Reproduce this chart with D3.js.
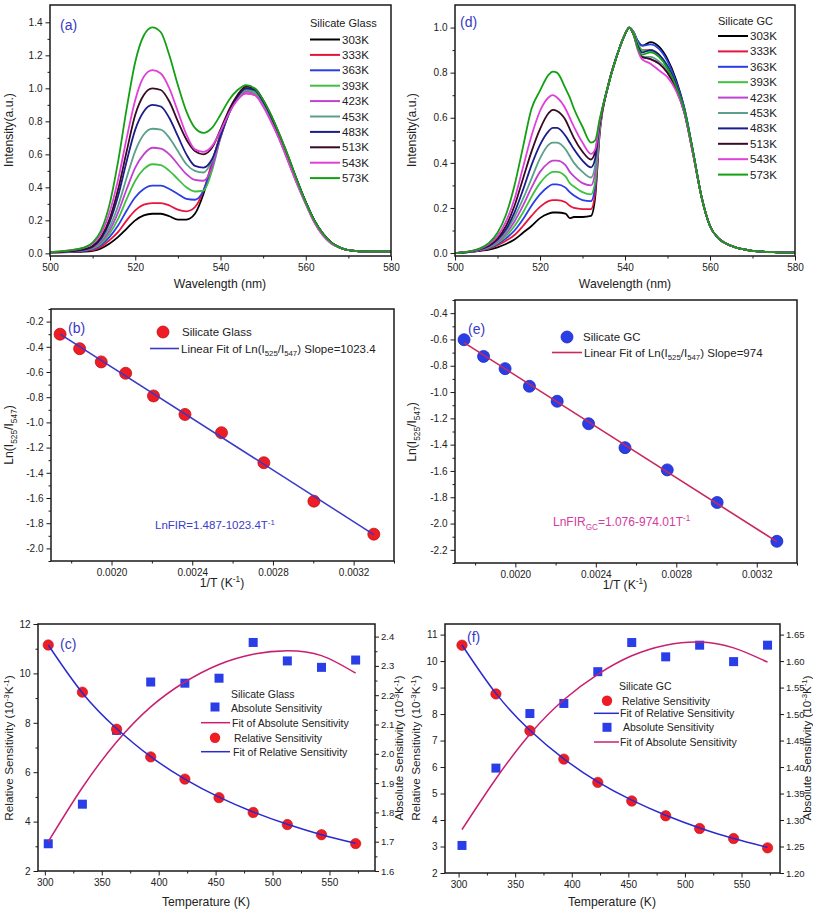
<!DOCTYPE html>
<html><head><meta charset="utf-8">
<script src="https://cdn.jsdelivr.net/npm/d3@7"></script>
<style>body{margin:0;background:#fff} svg{display:block}</style>
</head><body><svg id="c" width="813" height="914"></svg>
<script>
const FONT = '"Liberation Sans", Arial, Helvetica, sans-serif';

// ---------- shared ----------
const temps = ["303K","333K","363K","393K","423K","453K","483K","513K","543K","573K"];
const tempK = [303,333,363,393,423,453,483,513,543,573];
const colors = ["#000000","#e8143c","#2a3ee8","#40c040","#c040d0","#5aa08a","#1c1c8c","#3a0a24","#e040d8","#14a014"];

// ---------- panel (a): Silicate Glass spectra ----------
const wlA = [500,505,508,510,512,514,516,518,520,522,524,526,528,530,532,534,536,538,540,542,544,546,548,550,552,554,556,558,560,562,564,566,568,570,575,580];
const sA303 = [0.005,0.008,0.01,0.015,0.03,0.06,0.1,0.15,0.2,0.23,0.24,0.24,0.225,0.205,0.205,0.24,0.36,0.54,0.72,0.86,0.95,0.99,0.98,0.91,0.81,0.69,0.56,0.43,0.31,0.2,0.12,0.065,0.035,0.02,0.01,0.01];
const sA333 = [0.005,0.01,0.015,0.02,0.04,0.08,0.13,0.2,0.26,0.295,0.305,0.305,0.29,0.265,0.255,0.28,0.38,0.55,0.72,0.86,0.94,0.97,0.96,0.9,0.8,0.69,0.56,0.43,0.31,0.2,0.12,0.065,0.035,0.02,0.01,0.01];
const sA363 = [0.005,0.01,0.015,0.025,0.05,0.1,0.17,0.26,0.34,0.39,0.41,0.41,0.39,0.36,0.33,0.325,0.38,0.53,0.71,0.85,0.95,1.0,0.99,0.92,0.82,0.7,0.57,0.44,0.31,0.2,0.12,0.065,0.035,0.02,0.01,0.01];
const sA393 = [0.005,0.012,0.02,0.03,0.06,0.12,0.21,0.33,0.44,0.51,0.54,0.535,0.5,0.45,0.4,0.375,0.38,0.5,0.7,0.85,0.95,1.0,0.98,0.91,0.81,0.69,0.56,0.43,0.31,0.2,0.12,0.065,0.035,0.02,0.01,0.01];
const sA423 = [0.006,0.012,0.02,0.035,0.07,0.14,0.25,0.39,0.52,0.6,0.64,0.635,0.6,0.54,0.48,0.445,0.44,0.52,0.7,0.85,0.94,0.98,0.97,0.9,0.8,0.68,0.55,0.42,0.3,0.19,0.11,0.06,0.035,0.02,0.01,0.01];
const sA453 = [0.006,0.013,0.022,0.04,0.08,0.16,0.29,0.46,0.62,0.72,0.755,0.75,0.7,0.62,0.54,0.5,0.49,0.56,0.71,0.85,0.94,0.99,0.97,0.9,0.8,0.68,0.55,0.42,0.3,0.19,0.11,0.06,0.035,0.02,0.01,0.01];
const sA483 = [0.006,0.013,0.022,0.04,0.09,0.19,0.35,0.56,0.75,0.86,0.9,0.89,0.82,0.71,0.6,0.53,0.52,0.57,0.71,0.85,0.95,1.0,0.99,0.92,0.82,0.7,0.57,0.44,0.31,0.2,0.12,0.065,0.035,0.02,0.01,0.01];
const sA513 = [0.007,0.014,0.025,0.045,0.1,0.21,0.39,0.62,0.84,0.96,1.0,0.99,0.92,0.8,0.69,0.62,0.6,0.64,0.75,0.87,0.96,1.01,1.0,0.93,0.83,0.71,0.58,0.44,0.31,0.2,0.12,0.065,0.035,0.02,0.01,0.01];
const sA543 = [0.008,0.02,0.035,0.06,0.12,0.25,0.45,0.7,0.93,1.07,1.11,1.09,1.0,0.86,0.72,0.63,0.615,0.65,0.74,0.85,0.93,0.97,0.96,0.89,0.79,0.68,0.55,0.42,0.3,0.19,0.11,0.06,0.035,0.02,0.01,0.01];
const sA573 = [0.008,0.02,0.035,0.065,0.14,0.3,0.56,0.88,1.16,1.32,1.37,1.34,1.2,1.02,0.86,0.76,0.73,0.76,0.84,0.93,0.99,1.02,1.0,0.93,0.83,0.71,0.58,0.44,0.31,0.2,0.12,0.065,0.035,0.02,0.01,0.01];
const specA = [sA303,sA333,sA363,sA393,sA423,sA453,sA483,sA513,sA543,sA573];

// ---------- panel (d): Silicate GC spectra ----------
const wlD = [500,504,506,508,510,512,514,516,518,520,522,523,524,526,527,528,530,532,533,534,536,538,540,541,542,543,544,546,548,550,552,554,556,558,560,562,564,566,570,575,580];
const sD303 = [0,0.005,0.01,0.015,0.025,0.04,0.06,0.09,0.12,0.155,0.175,0.18,0.18,0.175,0.155,0.16,0.16,0.165,0.25,0.52,0.74,0.87,0.97,1.0,0.98,0.94,0.92,0.935,0.915,0.86,0.77,0.64,0.45,0.25,0.12,0.065,0.04,0.025,0.01,0.004,0.002];
const sD333 = [0,0.006,0.012,0.02,0.035,0.055,0.08,0.12,0.165,0.205,0.23,0.235,0.235,0.225,0.21,0.2,0.195,0.195,0.27,0.53,0.74,0.87,0.97,1.0,0.98,0.93,0.9,0.9,0.88,0.82,0.74,0.63,0.45,0.25,0.12,0.065,0.04,0.025,0.01,0.004,0.002];
const sD363 = [0,0.006,0.013,0.022,0.04,0.065,0.1,0.15,0.21,0.26,0.295,0.305,0.305,0.29,0.27,0.255,0.235,0.23,0.3,0.54,0.74,0.87,0.97,1.0,0.98,0.94,0.92,0.925,0.905,0.85,0.76,0.64,0.45,0.25,0.12,0.065,0.04,0.025,0.01,0.004,0.002];
const sD393 = [0,0.007,0.015,0.025,0.045,0.075,0.12,0.18,0.25,0.31,0.35,0.36,0.36,0.34,0.31,0.295,0.27,0.26,0.32,0.54,0.74,0.87,0.97,1.0,0.98,0.93,0.9,0.895,0.875,0.83,0.75,0.63,0.45,0.25,0.12,0.065,0.04,0.025,0.01,0.004,0.002];
const sD423 = [0,0.007,0.015,0.028,0.05,0.085,0.14,0.21,0.29,0.36,0.4,0.41,0.41,0.39,0.36,0.34,0.31,0.3,0.36,0.55,0.74,0.87,0.97,1.0,0.97,0.91,0.87,0.86,0.84,0.8,0.73,0.62,0.44,0.25,0.12,0.065,0.04,0.025,0.01,0.004,0.002];
const sD453 = [0,0.008,0.016,0.03,0.055,0.095,0.16,0.24,0.33,0.42,0.48,0.49,0.49,0.46,0.43,0.4,0.36,0.335,0.39,0.56,0.74,0.87,0.97,1.0,0.97,0.91,0.87,0.87,0.85,0.81,0.74,0.63,0.45,0.25,0.12,0.065,0.04,0.025,0.01,0.004,0.002];
const sD483 = [0,0.008,0.017,0.032,0.06,0.105,0.18,0.28,0.39,0.48,0.54,0.555,0.555,0.52,0.49,0.46,0.41,0.38,0.42,0.57,0.74,0.87,0.97,1.0,0.97,0.92,0.89,0.9,0.88,0.83,0.75,0.63,0.45,0.25,0.12,0.065,0.04,0.025,0.01,0.004,0.002];
const sD513 = [0,0.009,0.018,0.035,0.065,0.12,0.21,0.33,0.45,0.55,0.62,0.635,0.63,0.59,0.55,0.51,0.45,0.415,0.45,0.57,0.74,0.87,0.97,1.0,0.97,0.91,0.87,0.86,0.84,0.8,0.73,0.62,0.44,0.25,0.12,0.065,0.04,0.025,0.01,0.004,0.002];
const sD543 = [0,0.01,0.02,0.04,0.075,0.14,0.24,0.38,0.52,0.63,0.69,0.7,0.69,0.64,0.6,0.56,0.49,0.44,0.46,0.58,0.74,0.87,0.97,1.0,0.97,0.9,0.86,0.84,0.81,0.78,0.72,0.62,0.44,0.25,0.12,0.065,0.04,0.025,0.01,0.004,0.002];
const sD573 = [0,0.01,0.022,0.045,0.09,0.17,0.3,0.47,0.64,0.72,0.79,0.805,0.8,0.73,0.69,0.64,0.56,0.49,0.5,0.59,0.74,0.87,0.97,1.0,0.97,0.91,0.88,0.89,0.87,0.82,0.74,0.63,0.45,0.25,0.12,0.065,0.04,0.025,0.01,0.004,0.002];
const specD = [sD303,sD333,sD363,sD393,sD423,sD453,sD483,sD513,sD543,sD573];

// ---------- panels (b),(e): Ln FIR vs 1/T ----------
const invT = [0.001745,0.001842,0.001949,0.002070,0.002208,0.002364,0.002545,0.002755,0.003003,0.003300];
const lnGlass = [-0.30,-0.415,-0.52,-0.61,-0.79,-0.937,-1.082,-1.32,-1.625,-1.887];
const fitX = [0.001745,0.003300];
const fitGlass = [-0.299,-1.890];
const lnGC = [-0.602,-0.729,-0.822,-0.956,-1.07,-1.241,-1.423,-1.592,-1.84,-2.135];
const fitGC = [-0.624,-2.138];

// ---------- panels (c),(f): sensitivities ----------
const srGlass    = [11.15,9.24,7.74,6.62,5.72,4.97,4.37,3.88,3.47,3.11];
const srGlassFit = [11.15,9.21,7.77,6.63,5.72,4.99,4.39,3.89,3.47,3.12];
const saGlass    = [1.693,1.828,2.08,2.245,2.241,2.258,2.38,2.317,2.295,2.32];
const saGlassFit = [1.70,1.885,2.04,2.16,2.245,2.305,2.34,2.352,2.335,2.275];
const srGC    = [10.6,8.76,7.37,6.30,5.42,4.72,4.16,3.68,3.30,2.95];
const srGCFit = [10.61,8.78,7.39,6.31,5.44,4.75,4.18,3.70,3.30,2.97];
const saGC    = [1.252,1.398,1.501,1.52,1.58,1.635,1.608,1.63,1.599,1.63];
const saGCFit = [1.282,1.378,1.462,1.527,1.575,1.610,1.630,1.636,1.625,1.598];

// ---------- tick values ----------
const tickWl = [500,520,540,560,580], tickWlMinor = [510,530,550,570];
const tickIntA = [0,0.2,0.4,0.6,0.8,1.0,1.2,1.4], tickIntAMinor = [0.1,0.3,0.5,0.7,0.9,1.1,1.3];
const tickIntD = [0,0.2,0.4,0.6,0.8,1.0], tickIntDMinor = [0.1,0.3,0.5,0.7,0.9];
const tickInv = [0.0020,0.0024,0.0028,0.0032], tickInvMinor = [0.0018,0.0022,0.0026,0.0030,0.0034];
const tickLnB = [-2.0,-1.8,-1.6,-1.4,-1.2,-1.0,-0.8,-0.6,-0.4,-0.2], tickLnBMinor = [-2.1,-1.9,-1.7,-1.5,-1.3,-1.1,-0.9,-0.7,-0.5,-0.3,-0.1];
const tickLnE = [-2.2,-2.0,-1.8,-1.6,-1.4,-1.2,-1.0,-0.8,-0.6,-0.4], tickLnEMinor = [-2.3,-2.1,-1.9,-1.7,-1.5,-1.3,-1.1,-0.9,-0.7,-0.5,-0.3];
const tickT = [300,350,400,450,500,550], tickTMinor = [325,375,425,475,525,575];
const tickSrC = [2,4,6,8,10,12], tickSrCMinor = [3,5,7,9,11];
const tickSaC = [1.6,1.7,1.8,1.9,2.0,2.1,2.2,2.3,2.4], tickSaCMinor = [1.65,1.75,1.85,1.95,2.05,2.15,2.25,2.35];
const tickSrF = [2,3,4,5,6,7,8,9,10,11], tickSrFMinor = [];
const tickSaF = [1.20,1.25,1.30,1.35,1.40,1.45,1.50,1.55,1.60,1.65], tickSaFMinor = [];

// ---------- helpers ----------
const svg = d3.select('#c');
const INK = '#1a1a1a';
const TITLE = 12.2;
let clipId = 0;

function styleAxis(sel, fs){
  sel.select('.domain').remove();
  sel.selectAll('line').attr('stroke', INK).attr('stroke-width', 1);
  sel.selectAll('text').attr('font-size', fs || 10).attr('fill', '#222').attr('font-family', FONT);
}
function rich(t, parts, size){
  let shift = 0;
  parts.forEach(([s, kind]) => {
    const target = kind === 'sup' ? -0.38*size : kind === 'sub' ? 0.3*size : 0;
    const ts = t.append('tspan').text(s).attr('dy', target - shift);
    if (kind) ts.attr('font-size', size*0.68);
    shift = target;
  });
  return t;
}
function makePanel(o){
  const g = svg.append('g');
  const x = d3.scaleLinear(o.xd, o.xr);
  const y = d3.scaleLinear(o.yd, o.yr);
  const [xl, xr] = o.xr, [yb, yt] = o.yr;
  g.append('g').attr('transform', `translate(0,${yb})`)
    .call(d3.axisBottom(x).tickValues(o.xMinor).tickSize(2.5).tickFormat('')).call(styleAxis);
  g.append('g').attr('transform', `translate(0,${yb})`)
    .call(d3.axisBottom(x).tickValues(o.xMajor).tickSize(4.5).tickPadding(3).tickFormat(o.xFmt)).call(styleAxis);
  g.append('g').attr('transform', `translate(${xl},0)`)
    .call(d3.axisLeft(y).tickValues(o.yMinor).tickSize(2.5).tickFormat('')).call(styleAxis);
  g.append('g').attr('transform', `translate(${xl},0)`)
    .call(d3.axisLeft(y).tickValues(o.yMajor).tickSize(4.5).tickPadding(3).tickFormat(o.yFmt)).call(styleAxis);
  let y2 = null;
  if (o.y2d){
    y2 = d3.scaleLinear(o.y2d, o.yr);
    g.append('g').attr('transform', `translate(${xr},0)`)
      .call(d3.axisRight(y2).tickValues(o.y2Minor).tickSize(2.5).tickFormat('')).call(styleAxis);
    g.append('g').attr('transform', `translate(${xr},0)`)
      .call(d3.axisRight(y2).tickValues(o.y2Major).tickSize(4).tickPadding(2).tickFormat(o.y2Fmt))
      .call(s => styleAxis(s, 9.5));
  }
  const id = 'clip' + (clipId++);
  svg.append('clipPath').attr('id', id).append('rect')
    .attr('x', xl).attr('y', yt).attr('width', xr - xl).attr('height', yb - yt);
  const plot = g.append('g').attr('clip-path', `url(#${id})`);
  g.append('rect').attr('x', xl).attr('y', yt).attr('width', xr - xl).attr('height', yb - yt)
    .attr('fill', 'none').attr('stroke', INK).attr('stroke-width', 1.5);
  return {g, plot, x, y, y2};
}
function label(g, x, y, txt, color){
  g.append('text').attr('x', x).attr('y', y).text(txt)
    .attr('font-family', FONT).attr('font-size', 14).attr('fill', color || '#3838c8');
}
function xTitle(g, x, y, parts){
  rich(g.append('text').attr('x', x).attr('y', y).attr('text-anchor', 'middle')
    .attr('font-family', FONT).attr('font-size', TITLE).attr('fill', '#222'), parts, TITLE);
}
function yTitle(g, x, y, parts, size){
  const s = size || TITLE;
  rich(g.append('text').attr('transform', `translate(${x},${y}) rotate(-90)`).attr('text-anchor', 'middle')
    .attr('font-family', FONT).attr('font-size', s).attr('fill', '#222'), parts, s);
}
function legText(g, x, y, parts, size, color){
  return rich(g.append('text').attr('x', x).attr('y', y).attr('font-family', FONT)
    .attr('font-size', size).attr('fill', color || '#222'), parts, size);
}
const f1 = d => d.toFixed(1), f2 = d => d.toFixed(2), f4 = d => d.toFixed(4), f0 = d => String(d);

// ---------- (a) ----------
{
  const P = makePanel({xd:[500,580], xr:[50,391], yd:[-0.016,1.505], yr:[256,5],
    xMajor:tickWl, xMinor:tickWlMinor, xFmt:f0, yMajor:tickIntA, yMinor:tickIntAMinor, yFmt:f1});
  const line = d3.line().x((d,i) => P.x(wlA[i])).y(d => P.y(d)).curve(d3.curveMonotoneX);
  specA.forEach((arr,k) => P.plot.append('path').attr('d', line(arr)).attr('fill','none')
    .attr('stroke', colors[k]).attr('stroke-width', 1.8));
  label(P.g, 60, 30, '(a)');
  legText(P.g, 310, 27, [['Silicate Glass']], 11);
  temps.forEach((t,k) => {
    const yy = 39.5 + k*15.4;
    P.g.append('line').attr('x1',310).attr('x2',340).attr('y1',yy).attr('y2',yy).attr('stroke',colors[k]).attr('stroke-width',2);
    legText(P.g, 342, yy+4, [[t]], 11.5);
  });
  xTitle(P.g, 220, 288, [['Wavelength (nm)']]);
  yTitle(P.g, 13, 130, [['Intensity(a.u.)']]);
}
// ---------- (d) ----------
{
  const P = makePanel({xd:[500,580], xr:[455,795], yd:[-0.013,1.1], yr:[256,5],
    xMajor:tickWl, xMinor:tickWlMinor, xFmt:f0, yMajor:tickIntD, yMinor:tickIntDMinor, yFmt:f1});
  const line = d3.line().x((d,i) => P.x(wlD[i])).y(d => P.y(d)).curve(d3.curveMonotoneX);
  specD.forEach((arr,k) => P.plot.append('path').attr('d', line(arr)).attr('fill','none')
    .attr('stroke', colors[k]).attr('stroke-width', 1.8));
  label(P.g, 460, 27, '(d)');
  legText(P.g, 718, 25, [['Silicate GC']], 11);
  temps.forEach((t,k) => {
    const yy = 36 + k*15.4;
    P.g.append('line').attr('x1',718).attr('x2',748).attr('y1',yy).attr('y2',yy).attr('stroke',colors[k]).attr('stroke-width',2);
    legText(P.g, 750, yy+4, [[t]], 11.5);
  });
  xTitle(P.g, 625, 288, [['Wavelength (nm)']]);
  yTitle(P.g, 416, 130, [['Intensity(a.u.)']]);
}
// ---------- (b) ----------
{
  const P = makePanel({xd:[0.0017,0.0034], xr:[51,394], yd:[-2.1,-0.1], yr:[561,309],
    xMajor:tickInv, xMinor:tickInvMinor, xFmt:f4, yMajor:tickLnB, yMinor:tickLnBMinor, yFmt:f1});
  const line = d3.line().x((d,i) => P.x(fitX[i])).y(d => P.y(d));
  P.plot.selectAll('circle.pt').data(lnGlass).join('circle').attr('class','pt')
    .attr('cx', (d,i) => P.x(invT[i])).attr('cy', d => P.y(d)).attr('r', 6)
    .attr('fill', '#ee1c24').attr('stroke', '#c01018').attr('stroke-width', 0.8);
  P.plot.append('path').attr('d', line(fitGlass)).attr('fill','none').attr('stroke','#3a3ac8').attr('stroke-width',1.5);
  label(P.g, 68, 333, '(b)');
  P.g.append('circle').attr('cx',163).attr('cy',332).attr('r',6).attr('fill','#ee1c24').attr('stroke','#c01018').attr('stroke-width',0.8);
  legText(P.g, 182, 336, [['Silicate Glass']], 11.5);
  P.g.append('line').attr('x1',150).attr('x2',179).attr('y1',348.5).attr('y2',348.5).attr('stroke','#3a3ac8').attr('stroke-width',1.6);
  legText(P.g, 181, 352.5, [['Linear Fit of Ln(I'],['525','sub'],['/I'],['547','sub'],[') Slope=1023.4']], 11.5);
  legText(P.g, 155, 529, [['LnFIR=1.487-1023.4T'],['-1','sup']], 11.5, '#3c3cc8');
  xTitle(P.g, 222, 587, [['1/T (K'],['-1','sup'],[')']]);
  yTitle(P.g, 13, 435, [['Ln(I'],['525','sub'],['/I'],['547','sub'],[')']]);
}
// ---------- (e) ----------
{
  const P = makePanel({xd:[0.0017,0.0034], xr:[455,797], yd:[-2.3,-0.3], yr:[563,300],
    xMajor:tickInv, xMinor:tickInvMinor, xFmt:f4, yMajor:tickLnE, yMinor:tickLnEMinor, yFmt:f1});
  const line = d3.line().x((d,i) => P.x(fitX[i])).y(d => P.y(d));
  P.plot.selectAll('circle.pt').data(lnGC).join('circle').attr('class','pt')
    .attr('cx', (d,i) => P.x(invT[i])).attr('cy', d => P.y(d)).attr('r', 6)
    .attr('fill', '#2a3ee8').attr('stroke', '#1a2ac0').attr('stroke-width', 0.8);
  P.plot.append('path').attr('d', line(fitGC)).attr('fill','none').attr('stroke','#c8285a').attr('stroke-width',1.6);
  label(P.g, 468, 334, '(e)');
  P.g.append('circle').attr('cx',567).attr('cy',337).attr('r',6).attr('fill','#2a3ee8').attr('stroke','#1a2ac0').attr('stroke-width',0.8);
  legText(P.g, 583, 341, [['Silicate GC']], 11.5);
  P.g.append('line').attr('x1',552).attr('x2',582).attr('y1',352.5).attr('y2',352.5).attr('stroke','#c8285a').attr('stroke-width',1.6);
  legText(P.g, 584, 356.5, [['Linear Fit of Ln(I'],['525','sub'],['/I'],['547','sub'],[') Slope=974']], 11.5);
  legText(P.g, 553, 526, [['LnFIR'],['GC','sub'],['=1.076-974.01T'],['-1','sup']], 12, '#d23ca0');
  xTitle(P.g, 625, 589, [['1/T (K'],['-1','sup'],[')']]);
  yTitle(P.g, 416, 432, [['Ln(I'],['525','sub'],['/I'],['547','sub'],[')']]);
}
// ---------- (c),(f) ----------
function sensPanel(o){
  const P = makePanel({xd:o.xd, xr:o.xr, yd:o.yd, yr:o.yr, y2d:o.y2d,
    xMajor:tickT, xMinor:tickTMinor, xFmt:f0, yMajor:o.yMajor, yMinor:o.yMinor, yFmt:f0,
    y2Major:o.y2Major, y2Minor:o.y2Minor, y2Fmt:o.y2Fmt});
  const lineR = d3.line().x((d,i) => P.x(tempK[i])).y(d => P.y(d)).curve(d3.curveNatural);
  const lineA = d3.line().x((d,i) => P.x(tempK[i])).y(d => P.y2(d)).curve(d3.curveNatural);
  P.plot.selectAll('rect.sq').data(o.sa).join('rect').attr('class','sq')
    .attr('x', (d,i) => P.x(tempK[i]) - 4.5).attr('y', d => P.y2(d) - 4.5).attr('width', 9).attr('height', 9)
    .attr('fill', '#2a3ee8');
  P.plot.selectAll('circle.pt').data(o.sr).join('circle').attr('class','pt')
    .attr('cx', (d,i) => P.x(tempK[i])).attr('cy', d => P.y(d)).attr('r', 5.2)
    .attr('fill', '#ee1c24').attr('stroke', '#c01018').attr('stroke-width', 0.6);
  P.plot.append('path').attr('d', lineA(o.saFit)).attr('fill','none').attr('stroke','#c82070').attr('stroke-width',1.5);
  P.plot.append('path').attr('d', lineR(o.srFit)).attr('fill','none').attr('stroke','#2a2ad0').attr('stroke-width',1.5);
  return P;
}
{
  const P = sensPanel({xd:[294,590], xr:[38,375], yd:[2,12], yr:[871,624], y2d:[1.6,2.443],
    yMajor:tickSrC, yMinor:tickSrCMinor, y2Major:tickSaC, y2Minor:tickSaCMinor, y2Fmt:f1,
    sr:srGlass, srFit:srGlassFit, sa:saGlass, saFit:saGlassFit});
  label(P.g, 60, 649, '(c)');
  legText(P.g, 231, 698, [['Silicate Glass']], 10.5);
  P.g.append('rect').attr('x',210.5).attr('y',702.5).attr('width',9).attr('height',9).attr('fill','#2a3ee8');
  legText(P.g, 231, 711.5, [['Absolute Sensitivity']], 10.5);
  P.g.append('line').attr('x1',201).attr('x2',230).attr('y1',722.7).attr('y2',722.7).attr('stroke','#c82070').attr('stroke-width',1.5);
  legText(P.g, 232, 726.5, [['Fit of Absolute Sensitivity']], 10.5);
  P.g.append('circle').attr('cx',215).attr('cy',737.7).attr('r',5.2).attr('fill','#ee1c24');
  legText(P.g, 234, 741.5, [['Relative Sensitivity']], 10.5);
  P.g.append('line').attr('x1',201).attr('x2',230).attr('y1',751.7).attr('y2',751.7).attr('stroke','#2a2ad0').attr('stroke-width',1.5);
  legText(P.g, 233, 755.5, [['Fit of Relative Sensitivity']], 10.5);
  xTitle(P.g, 206, 906, [['Temperature (K)']]);
  yTitle(P.g, 13, 748, [['Relative Sensitivity (10'],['-3','sup'],['K'],['-1','sup'],[')']], 11.8);
  yTitle(P.g, 403, 748, [['Absolute Sensitivity (10'],['-3','sup'],['K'],['-1','sup'],[')']], 11.5);
}
{
  const P = sensPanel({xd:[288,584], xr:[445,780], yd:[2,11.4], yr:[873,624], y2d:[1.2,1.67],
    yMajor:tickSrF, yMinor:tickSrFMinor, y2Major:tickSaF, y2Minor:tickSaFMinor, y2Fmt:f2,
    sr:srGC, srFit:srGCFit, sa:saGC, saFit:saGCFit});
  label(P.g, 467, 642, '(f)');
  legText(P.g, 619, 690, [['Silicate GC']], 10.5);
  P.g.append('circle').attr('cx',607).attr('cy',700.7).attr('r',5.2).attr('fill','#ee1c24');
  legText(P.g, 622, 704.5, [['Relative Sensitivity']], 10.5);
  P.g.append('line').attr('x1',594).attr('x2',619).attr('y1',713.3).attr('y2',713.3).attr('stroke','#2a2ad0').attr('stroke-width',1.5);
  legText(P.g, 620, 717, [['Fit of Relative Sensitivity']], 10.5);
  P.g.append('rect').attr('x',602.5).attr('y',722.8).attr('width',9).attr('height',9).attr('fill','#2a3ee8');
  legText(P.g, 623, 731, [['Absolute Sensitivity']], 10.5);
  P.g.append('line').attr('x1',594).attr('x2',619).attr('y1',742).attr('y2',742).attr('stroke','#c82070').attr('stroke-width',1.5);
  legText(P.g, 620, 746, [['Fit of Absolute Sensitivity']], 10.5);
  xTitle(P.g, 612, 906, [['Temperature (K)']]);
  yTitle(P.g, 420, 748, [['Relative Sensitivity (10'],['-3','sup'],['K'],['-1','sup'],[')']], 11.8);
  yTitle(P.g, 811, 748, [['Absolute Sensitivity (10'],['-3','sup'],['K'],['-1','sup'],[')']], 11.5);
}
</script></body></html>
